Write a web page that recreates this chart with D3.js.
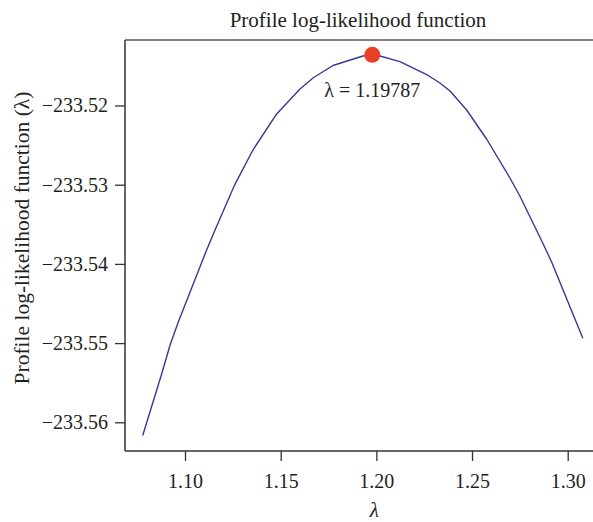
<!DOCTYPE html>
<html>
<head>
<meta charset="utf-8">
<script src="https://cdn.jsdelivr.net/npm/d3@7"></script>
<style>
  body { margin: 0; background: #fff; }
  text { font-family: "Liberation Serif", "DejaVu Serif", serif; fill: #231f20; }
</style>
</head>
<body>
<svg id="chart" width="593" height="522"></svg>
<script>
// profile log-likelihood
var lambdaVals = [1.0779, 1.0878, 1.0922, 1.0965, 1.1113, 1.1157, 1.1183, 1.1261, 1.1355, 1.1479,
                  1.1601, 1.1669, 1.1773, 1.1930, 1.1979, 1.2019, 1.2123, 1.2263, 1.2332, 1.2385,
                  1.2472, 1.2576, 1.2698, 1.2750, 1.2872, 1.2916, 1.3079];
var loglikVals = [-233.56167, -233.55390, -233.55024, -233.54734, -233.53824, -233.53572, -233.53427, -233.52995, -233.52562, -233.52107,
                  -233.51792, -233.51653, -233.51495, -233.51375, -233.51362, -233.51375, -233.51447, -233.51609, -233.51716, -233.51817,
                  -233.52057, -233.52423, -233.52915, -233.53143, -233.53749, -233.53976, -233.54939];
var xTicks = [1.10, 1.15, 1.20, 1.25, 1.30];
var yTicks = [-233.56, -233.55, -233.54, -233.53, -233.52];
var peakLambda = 1.19787;
var peakValue = -233.5136;

var svg = d3.select("#chart");
var plotLeft = 125, plotTop = 40, plotBottom = 451, plotRight = 600;

var xScale = d3.scaleLinear().domain([1.10, 1.30]).range([185, 567.7]);
var yScale = d3.scaleLinear().domain([-233.56, -233.52]).range([422.3, 105.5]);

var points = lambdaVals.map(function(d, i){ return [d, loglikVals[i]]; });

// frame (right side runs off the picture)
svg.append("line").attr("x1", plotLeft).attr("x2", plotRight).attr("y1", plotTop).attr("y2", plotTop)
  .attr("stroke", "#555").attr("stroke-width", 1.5);

var yAxis = d3.axisLeft(yScale).tickValues(yTicks).tickSize(10).tickPadding(7)
  .tickFormat(function(d){ return d3.format(".2f")(d); });
var gy = svg.append("g").attr("transform", "translate(" + plotLeft + ",0)").call(yAxis);
gy.select(".domain").remove();
gy.append("line").attr("x1", 0).attr("x2", 0).attr("y1", plotTop).attr("y2", plotBottom)
  .attr("stroke", "#333").attr("stroke-width", 1.5);

var xAxis = d3.axisBottom(xScale).tickValues(xTicks).tickSize(10).tickPadding(13)
  .tickFormat(d3.format(".2f"));
var gx = svg.append("g").attr("transform", "translate(0," + plotBottom + ")").call(xAxis);
gx.select(".domain").remove();
gx.append("line").attr("x1", plotLeft).attr("x2", plotRight).attr("y1", 0).attr("y2", 0)
  .attr("stroke", "#333").attr("stroke-width", 1.5);

svg.selectAll(".tick line").attr("stroke", "#333").attr("stroke-width", 1.3);
svg.selectAll(".tick text").style("font-family", "Liberation Serif, serif")
  .style("font-size", "20px").attr("fill", "#231f20");

var line = d3.line()
  .x(function(d){ return xScale(d[0]); })
  .y(function(d){ return yScale(d[1]); });
svg.append("path").datum(points).attr("d", line)
  .attr("fill", "none").attr("stroke", "#3b3597").attr("stroke-width", 1.4)
  .attr("stroke-linejoin", "round");

svg.append("circle").attr("cx", xScale(peakLambda)).attr("cy", yScale(peakValue)).attr("r", 8)
  .attr("fill", "#ea4025");

svg.append("text").attr("x", xScale(peakLambda)).attr("y", 97).attr("text-anchor", "middle")
  .style("font-size", "20px").text("\u03bb = 1.19787");

svg.append("text").attr("x", 358).attr("y", 27).attr("text-anchor", "middle")
  .style("font-size", "21px").text("Profile log-likelihood function");

svg.append("text").attr("x", xScale(1.20) - 2).attr("y", 517).attr("text-anchor", "middle")
  .style("font-size", "21px").style("font-style", "italic").text("\u03bb");

svg.append("text").attr("transform", "translate(29,238) rotate(-90)").attr("text-anchor", "middle")
  .style("font-size", "21.5px").text("Profile log-likelihood function (\u03bb)");
</script>
</body>
</html>
